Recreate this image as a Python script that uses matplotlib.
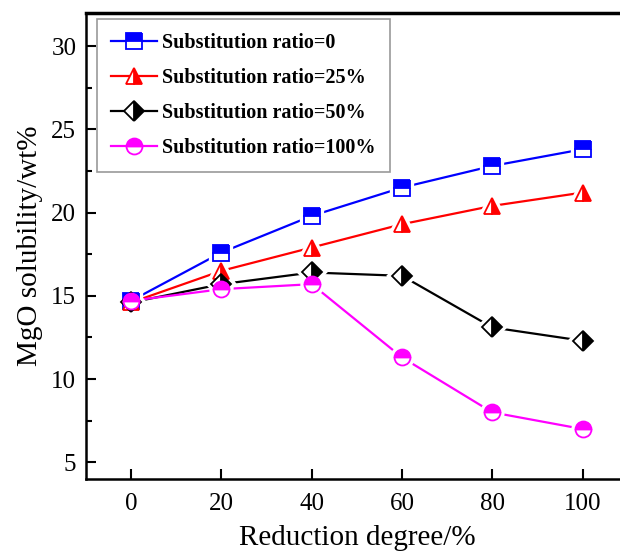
import matplotlib.pyplot as plt
from matplotlib.ticker import MultipleLocator

plt.rcParams['font.family'] = ['Liberation Serif', 'DejaVu Serif']

# reduction degree (%)
degree = [0, 20, 40, 60, 80, 100]

# MgO solubility (wt%) for each substitution ratio
sub_0 = [14.7, 17.6, 19.8, 21.5, 22.8, 23.8]
sub_25 = [14.6, 16.5, 17.9, 19.3, 20.4, 21.2]
sub_50 = [14.6, 15.7, 16.4, 16.2, 13.1, 12.3]
sub_100 = [14.7, 15.4, 15.7, 11.3, 8.0, 7.0]

labels = ['Substitution ratio=0', 'Substitution ratio=25%',
          'Substitution ratio=50%', 'Substitution ratio=100%']

series = [
    (sub_0, '#0000ff', 's', 'top', 11.5),
    (sub_25, '#ff0000', '^', 'right', 12),
    (sub_50, '#000000', 'D', 'right', 10.5),
    (sub_100, '#ff00ff', 'o', 'top', 11.5),
]

fig = plt.figure(figsize=(6.2, 5.52), dpi=100)
ax = fig.add_axes([86 / 620, 73 / 552, 541.8 / 620, 466.3 / 552])

for (vals, col, mk, fs, ms), lab in zip(series, labels):
    ax.plot(degree, vals, color=col, lw=1.6, zorder=2)
    # white halo so the line stops short of the marker, Origin style
    ax.plot(degree, vals, ls='none', marker=mk, ms=ms, mfc='white',
            mec='white', mew=6, zorder=3)
    ax.plot(degree, vals, ls='none', marker=mk, ms=ms, fillstyle=fs,
            mfc=col, mfcalt='white', mec=col, mew=1.3, zorder=4)
    # legend proxy
    ax.plot([], [], color=col, lw=1.6, marker=mk, ms=ms, fillstyle=fs,
            mfc=col, mfcalt='white', mec=col, mew=1.3, label=lab)

ax.set_xlim(-10, 110)
ax.set_ylim(4, 32)
ax.set_xticks(degree)
ax.yaxis.set_major_locator(MultipleLocator(5))
ax.yaxis.set_minor_locator(MultipleLocator(2.5))
ax.set_yticks([5, 10, 15, 20, 25, 30])

ax.tick_params(axis='both', which='major', direction='in', length=7, width=1.5,
               labelsize=18)
ax.tick_params(axis='x', pad=10)
ax.tick_params(axis='y', pad=7)
ax.tick_params(axis='y', which='minor', direction='in', length=4, width=1.5)

for s in ['left', 'bottom']:
    ax.spines[s].set_linewidth(1.8)
ax.spines['top'].set_linewidth(2.5)
ax.spines['right'].set_visible(False)

ax.set_xlabel('Reduction degree/%', fontsize=21, labelpad=7)
ax.set_ylabel('MgO solubility/wt%', fontsize=21, labelpad=6)

leg = ax.legend(loc='upper left', bbox_to_anchor=(0.02, 0.987), fancybox=False,
                edgecolor='#999999', framealpha=1,
                prop={'weight': 'bold', 'size': 14.5},
                handlelength=2.3, handletextpad=0.25, labelspacing=0.75,
                borderpad=0.7, borderaxespad=0)
leg.get_frame().set_linewidth(1.2)

plt.savefig('out.png', dpi=100)
